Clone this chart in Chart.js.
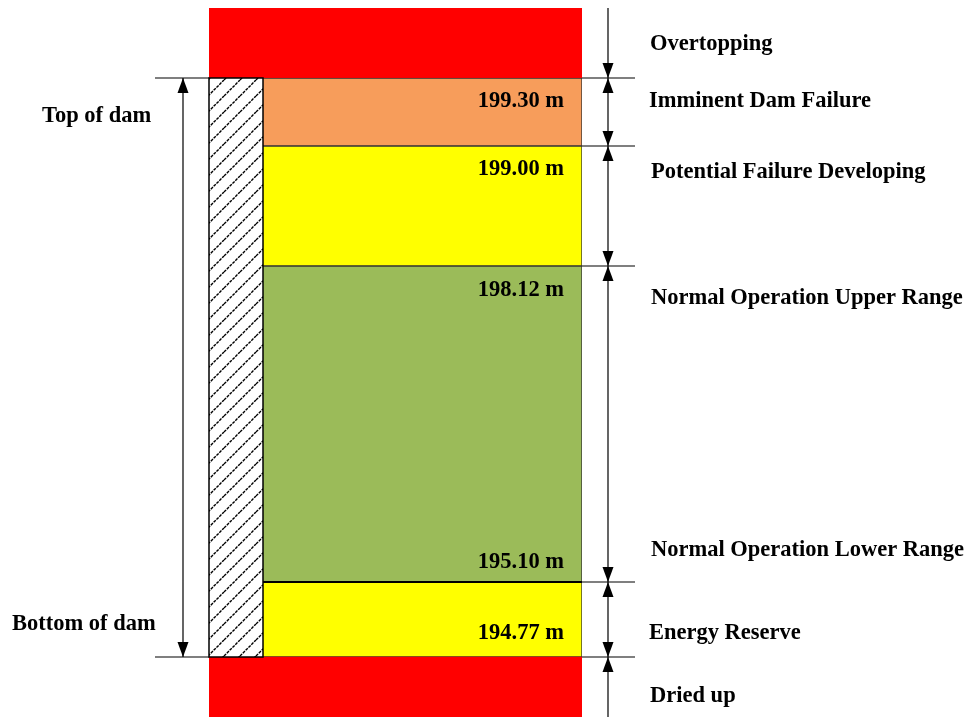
<!DOCTYPE html>
<html>
<head>
<meta charset="utf-8">
<script src="https://cdn.jsdelivr.net/npm/chart.js@4.4.0/dist/chart.umd.min.js"></script>
<style>
    html, body { margin: 0; padding: 0; background: #fff; }
</style>
</head>
<body>
<canvas id="grafico-presa" width="969" height="717"></canvas>
<script>
// Esquema de niveles del embalse (no a escala): zonas de abajo hacia arriba
const zonas = ["Dried up", "Energy Reserve", "Normal Operation", "Potential Failure Developing", "Imminent Dam Failure", "Overtopping"];
// Altura de cada zona en unidades del esquema
const alturas = [60, 75, 316, 120, 68, 70];
const colores = ["#FF0000", "#FFFF00", "#9BBB59", "#FFFF00", "#F79D5B", "#FF0000"];

// Cotas escritas dentro de la barra
const cotas = ["199.30 m", "199.00 m", "198.12 m", "195.10 m", "194.77 m"];
// Etiquetas a la derecha y a la izquierda
const etiquetasDerecha = ["Overtopping", "Imminent Dam Failure", "Potential Failure Developing", "Normal Operation Upper Range", "Normal Operation Lower Range", "Energy Reserve", "Dried up"];
const etiquetasIzquierda = ["Top of dam", "Bottom of dam"];

// Límites acumulados de las zonas
const bordes = [0];
alturas.forEach((h, i) => bordes.push(bordes[i] + h));

// Dónde va cada texto: [zona, borde de referencia, desplazamiento en px]
const posCotas = [[4, "top", 23], [3, "top", 23], [2, "top", 24], [2, "bottom", -20], [1, "bottom", -24]];
const posDerecha = [[5, "mid", 1], [4, "top", 23], [3, "top", 26], [2, "top", 32], [2, "bottom", -32], [1, "bottom", -24], [0, "top", 39]];
const xDerecha = [650, 649, 651, 651, 651, 649, 650];
const posIzquierda = [[4, "top", 38], [1, "bottom", -33]];
const xIzquierda = [42, 12];

const fuente = "bold 22.5px 'Liberation Serif', 'Times New Roman', serif";

function yZona(escala, zona, ref, dy) {
    const arriba = escala.getPixelForValue(bordes[zona + 1]);
    const abajo = escala.getPixelForValue(bordes[zona]);
    if (ref === "top") return arriba + dy;
    if (ref === "bottom") return abajo + dy;
    return (arriba + abajo) / 2 + dy;
}

// Punta de flecha: dir = 1 apunta hacia abajo, -1 hacia arriba
function punta(ctx, x, y, dir) {
    ctx.beginPath();
    ctx.moveTo(x, y);
    ctx.lineTo(x - 5.5, y - dir * 15);
    ctx.lineTo(x + 5.5, y - dir * 15);
    ctx.closePath();
    ctx.fill();
}

// Patrón rayado para el cuerpo de la presa
function rayado(ctx) {
    const n = 16;
    const c = document.createElement("canvas");
    c.width = n; c.height = n;
    const p = c.getContext("2d");
    p.fillStyle = "#fff";
    p.fillRect(0, 0, n, n);
    p.strokeStyle = "#000";
    p.lineWidth = 1.4;
    p.setLineDash([3, 1]);
    p.beginPath();
    p.moveTo(0, n); p.lineTo(n, 0);
    p.moveTo(-2, 2); p.lineTo(2, -2);
    p.moveTo(n - 2, n + 2); p.lineTo(n + 2, n - 2);
    p.stroke();
    return ctx.createPattern(c, "repeat");
}

const anotaciones = {
    id: "anotaciones",
    afterDatasetsDraw(chart) {
        const ctx = chart.ctx;
        const y = chart.scales.y;
        const area = chart.chartArea;
        const py = v => y.getPixelForValue(v);
        const yTop = py(bordes[5]);
        const yBot = py(bordes[1]);
        ctx.save();

        // Cuerpo de la presa (rayado)
        const anchoPresa = 54;
        ctx.fillStyle = rayado(ctx);
        ctx.fillRect(area.left, yTop, anchoPresa, yBot - yTop);
        ctx.strokeStyle = "#000";
        ctx.lineWidth = 1.5;
        ctx.strokeRect(area.left, yTop, anchoPresa, yBot - yTop);

        // Línea gruesa entre verde y amarillo
        ctx.lineWidth = 2;
        ctx.beginPath();
        ctx.moveTo(area.left + anchoPresa, py(bordes[2]));
        ctx.lineTo(area.right, py(bordes[2]));
        ctx.stroke();

        // Cota del lado derecho
        const xFlecha = 608;
        ctx.lineWidth = 1.2;
        ctx.beginPath();
        ctx.moveTo(xFlecha, area.top);
        ctx.lineTo(xFlecha, chart.height);
        for (let i = 1; i <= 5; i++) {
            const yy = py(bordes[i]);
            ctx.moveTo(area.right, yy);
            ctx.lineTo(635, yy);
        }
        // Líneas largas en coronación y fondo
        ctx.moveTo(155, yTop); ctx.lineTo(area.left, yTop);
        ctx.moveTo(155, yBot); ctx.lineTo(area.left, yBot);
        // Cota del lado izquierdo
        ctx.moveTo(183, yTop); ctx.lineTo(183, yBot);
        ctx.stroke();

        ctx.fillStyle = "#000";
        for (let i = 1; i <= 5; i++) {
            const yy = py(bordes[i]);
            punta(ctx, xFlecha, yy, 1);
            punta(ctx, xFlecha, yy, -1);
        }
        punta(ctx, 183, yTop, -1);
        punta(ctx, 183, yBot, 1);

        // Textos
        ctx.font = fuente;
        ctx.textBaseline = "middle";
        ctx.textAlign = "right";
        cotas.forEach((t, i) => {
            const [z, ref, dy] = posCotas[i];
            ctx.fillText(t, 564, yZona(y, z, ref, dy));
        });
        ctx.textAlign = "left";
        etiquetasDerecha.forEach((t, i) => {
            const [z, ref, dy] = posDerecha[i];
            ctx.fillText(t, xDerecha[i], yZona(y, z, ref, dy));
        });
        etiquetasIzquierda.forEach((t, i) => {
            const [z, ref, dy] = posIzquierda[i];
            ctx.fillText(t, xIzquierda[i], yZona(y, z, ref, dy));
        });
        ctx.restore();
    }
};

const ctx = document.getElementById("grafico-presa").getContext("2d");
const grafico = new Chart(ctx, {
    type: "bar",
    data: {
        labels: ["Embalse"],
        datasets: zonas.map((z, i) => ({
            label: z,
            data: [alturas[i]],
            backgroundColor: colores[i],
            borderColor: (i === 0 || i === 5) ? colores[i] : "#333333",
            borderWidth: (i === 0 || i === 5) ? 0 : 1,
            borderSkipped: false,
            barPercentage: 1,
            categoryPercentage: 1
        }))
    },
    options: {
        responsive: false,
        animation: false,
        layout: { padding: { left: 209, right: 387, top: 8, bottom: 0 } },
        plugins: { legend: { display: false }, tooltip: { enabled: false } },
        scales: {
            x: { display: false, stacked: true },
            y: { display: false, stacked: true, min: 0, max: bordes[bordes.length - 1] }
        }
    },
    plugins: [anotaciones]
});
</script>
</body>
</html>
